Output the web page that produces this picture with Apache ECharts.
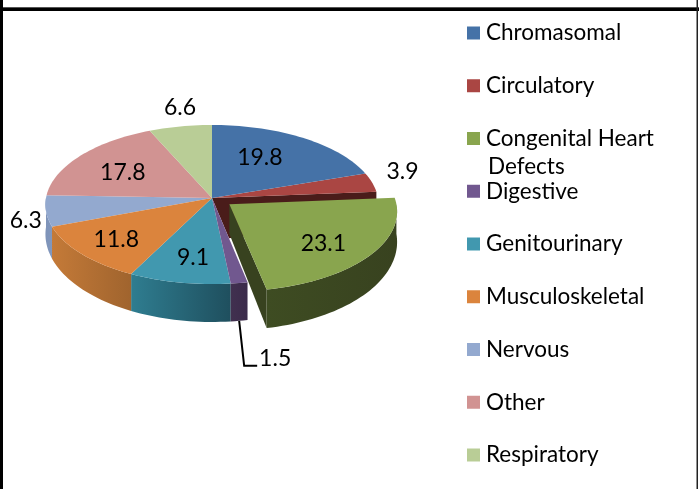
<!DOCTYPE html>
<html>
<head>
<meta charset="utf-8">
<style>
html, body { margin: 0; padding: 0; background: #fff; }
#main { width: 699px; height: 489px; }
</style>
<script src="https://cdn.jsdelivr.net/npm/echarts@6/dist/echarts.min.js"></script>
</head>
<body>
<div id="main"></div>
<script>
// data
var categories = ['Chromasomal', 'Circulatory', 'Congenital Heart Defects', 'Digestive', 'Genitourinary', 'Musculoskeletal', 'Nervous', 'Other', 'Respiratory'];
var values = [19.8, 3.9, 23.1, 1.5, 9.1, 11.8, 6.3, 17.8, 6.6];
var exploded = ['Congenital Heart Defects'];

// colours: top face, side gradient left/right, last one also used for radial walls
var topColors = ['#4572a7', '#aa4643', '#89a54e', '#71588f', '#4198af', '#db843d', '#93a9cf', '#d19392', '#b9cd96'];
var sideColors = [['#2a4465', '#2a4465'], ['#4a1c1a', '#4a1c1a'], ['#3e4c22', '#38421f'], ['#41304f', '#3b2b4b'], ['#2f7d90', '#1f4f5e'], ['#c47a38', '#a0642e'], ['#7e93b8', '#8197bd'], ['#8a5f5e', '#8a5f5e'], ['#7a8a62', '#7a8a62']];

// pie projection
var cx = 212, cy = 198, rx = 166, ry = 79, persp = 0.082, depth = 29, explodeBy = 0.13;
// label placement: distance along the radius, then a nudge in px
var labelR = [0.6, 1.15, 0.6, 1, 0.6, 0.6, 1.15, 0.6, 1.15];
var labelNudge = [[-8, -3], [7, -8], [11, 10], [36, 38], [0, 11], [-19, 9], [5, 8], [-9, 0], [4, -9]];

var total = values.reduce(function (a, b) { return a + b; }, 0);
var fontName = 'Lato';

// h is 0 for the top face, depth for the bottom edge; nearer parts look thicker
function project(ang, f, off, h) {
	var u = Math.sin(ang) * f + off[0];
	var v = -Math.cos(ang) * f + off[1];
	var s = 1 / (1 - persp * v);
	return [cx + rx * u * s, cy + ry * v * s + (h || 0) * (1 + 0.2 * v) * s];
}

function rimPoints(a0, a1, off, h) {
	var pts = [];
	var n = Math.max(2, Math.ceil((a1 - a0) / 0.03));
	for (var i = 0; i <= n; i++) {
		pts.push(project(a0 + (a1 - a0) * i / n, 1, off, h));
	}
	return pts;
}

function poly(points, fill) {
	return { type: 'polygon', shape: { points: points }, style: { fill: fill }, silent: true };
}

function makeRender(idx) {
	return function (params, api) {
		var start = 0;
		for (var i = 0; i < idx; i++) start += values[i];
		var val = api.value(0);
		var a0 = start / total * Math.PI * 2;
		var a1 = (start + val) / total * Math.PI * 2;
		var mid = (a0 + a1) / 2;
		var isOut = exploded.indexOf(categories[idx]) >= 0;
		var off = isOut ? [Math.sin(mid) * explodeBy, -Math.cos(mid) * explodeBy] : [0, 0];
		var kids = [];
		var apexTop = project(0, 0, off, 0);
		var apexBottom = project(0, 0, off, depth);
		var wall = sideColors[idx][1];

		// radial walls next to the gap left by the exploded slice
		if (exploded.indexOf(categories[idx + 1]) >= 0) {
			// this one also fills the hollow core up to the far edge of the gap
			var farEdge = (start + val + values[idx + 1]) / total * Math.PI * 2;
			kids.push(poly([apexTop, project(a1, 1, off, 0), project(a1, 1, off, depth), project(farEdge, 0.5, off, 0)], wall));
		}
		if (isOut) {
			kids.push(poly([apexTop, project(a1, 1, off, 0), project(a1, 1, off, depth), apexBottom], wall));
		}

		// outer side, only the part turned to the viewer
		var from = Math.max(a0, Math.PI / 2);
		var to = Math.min(a1, Math.PI * 1.5);
		if (to > from) {
			var upper = rimPoints(from, to, off, 0);
			var lower = rimPoints(from, to, off, depth).reverse();
			var xs = upper.map(function (p) { return p[0]; });
			var left = Math.min.apply(null, xs), right = Math.max.apply(null, xs);
			kids.push({
				type: 'polygon',
				shape: { points: upper.concat(lower) },
				silent: true,
				style: {
					fill: new echarts.graphic.LinearGradient(left, 0, right, 0, [
						{ offset: 0, color: sideColors[idx][0] },
						{ offset: 1, color: sideColors[idx][1] }
					], true)
				}
			});
		}

		// top face
		kids.push(poly([apexTop].concat(rimPoints(a0, a1, off, 0)), topColors[idx]));

		// value label
		var rim = project(mid, labelR[idx], off, categories[idx] === 'Digestive' ? depth : 0);
		var lx = rim[0] + labelNudge[idx][0], ly = rim[1] + labelNudge[idx][1];
		if (categories[idx] === 'Digestive') {
			kids.push({
				type: 'polyline',
				shape: { points: [rim, [rim[0] + 5, rim[1] + 45], [rim[0] + 18, rim[1] + 45]] },
				style: { stroke: '#000', lineWidth: 2, fill: null },
				silent: true
			});
		}
		kids.push({
			type: 'text',
			silent: true,
			style: { x: lx, y: ly, text: String(val), fill: '#000', font: '23px ' + fontName, textAlign: 'center', textVerticalAlign: 'middle' }
		});
		return { type: 'group', children: kids };
	};
}

// back slices first, exploded slice and labels on top
var drawOrder = { 'Congenital Heart Defects': 9, 'Digestive': 5, 'Genitourinary': 4, 'Musculoskeletal': 4, 'Circulatory': 1 };
var series = categories.map(function (name, i) {
	return {
		type: 'custom',
		name: name,
		coordinateSystem: 'none',
		z: drawOrder[name] || 2,
		silent: true,
		animation: false,
		itemStyle: { color: topColors[i] },
		renderItem: makeRender(i),
		data: [[values[i]]]
	};
});

var myChart = echarts.init(document.getElementById('main'));
myChart.setOption({
	animation: false,
	backgroundColor: '#fff',
	color: topColors,
	legend: {
		orient: 'vertical',
		left: 467,
		top: 21.5,
		padding: 0,
		itemWidth: 13,
		itemHeight: 13,
		itemGap: 29.75,
		icon: 'rect',
		selectedMode: false,
		data: categories,
		formatter: function (name) {
			return name === 'Congenital Heart Defects' ? 'Congenital Heart' : name;
		},
		textStyle: { color: '#000', fontFamily: fontName, fontSize: 22.5, lineHeight: 20, padding: [0, 0, 0, 1] }
	},
	graphic: [
		{ type: 'rect', shape: { x: 0, y: 7, width: 699, height: 1 }, style: { fill: '#555' }, silent: true },
		{ type: 'rect', shape: { x: 0, y: 8, width: 699, height: 3 }, style: { fill: '#000' }, silent: true },
		{ type: 'rect', shape: { x: 0, y: 0, width: 3, height: 489 }, style: { fill: '#000' }, silent: true },
		{ type: 'rect', shape: { x: 696.5, y: 0, width: 1.5, height: 489 }, style: { fill: '#222' }, silent: true },
		{ type: 'text', style: { x: 488, y: 167, text: 'Defects', fill: '#000', font: '22.5px ' + fontName, textVerticalAlign: 'middle' }, silent: true }
	],
	series: series
});
</script>
</body>
</html>
